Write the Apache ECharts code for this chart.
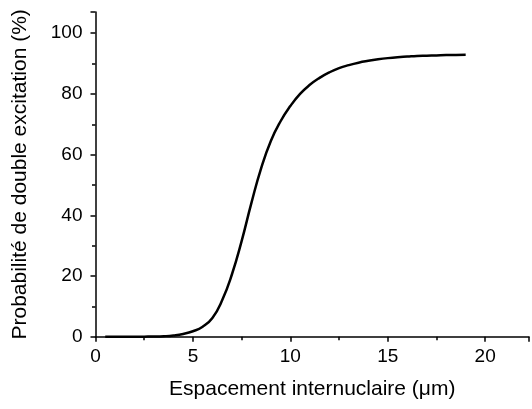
<!DOCTYPE html>
<html>
<head>
<meta charset="utf-8">
<script src="https://cdn.jsdelivr.net/npm/echarts@6/dist/echarts.min.js"></script>
<style>html,body{margin:0;padding:0;background:#fff;}#c{width:532px;height:409px;}</style>
</head>
<body>
<div id="c"></div>
<script>
var spacing = [0.5,1,1.5,2,2.5,3,3.5,4,4.5,5,5.5,6,6.5,7,7.5,8,8.5,9,9.5,10,10.5,11,11.5,12,12.5,13,13.5,14,14.5,15,15.5,16,16.5,17,17.5,18,18.5,19];
var probability = [0,0,0,0,0.02,0.05,0.15,0.4,0.9,1.8,3.3,6.2,12,20.5,31.5,44,55.5,64.5,71,76,80,83,85.3,87.1,88.5,89.5,90.3,90.9,91.4,91.8,92.1,92.3,92.5,92.6,92.7,92.8,92.85,92.9];
var xTitle = 'Espacement internuclaire (\u03bcm)';
var yTitle = 'Probabilit\u00e9 de double excitation (%)';

var points = spacing.map(function(x,i){return [x, probability[i]];});
var font = 'Liberation Sans, Arial, sans-serif';
var chart = echarts.init(document.getElementById('c'));
chart.setOption({
  animation:false,
  backgroundColor:'#fff',
  grid:{left:95.5,right:0,top:12,bottom:72.3,containLabel:false},
  xAxis:{
    type:'value',min:0,max:22.25,interval:5,
    name:xTitle,nameLocation:'middle',nameGap:42,
    nameTextStyle:{fontFamily:font,fontSize:21,color:'#000'},
    axisLine:{show:true,onZero:false,lineStyle:{color:'#000',width:1.5}},
    axisTick:{show:true,inside:false,length:5,lineStyle:{color:'#000',width:1.5}},
    minorTick:{show:true,splitNumber:2,length:3.5,lineStyle:{color:'#000',width:1.5}},
    axisLabel:{fontFamily:font,fontSize:19,color:'#000',margin:11,
      formatter:function(v){return (v%5===0)?String(v):'';}},
    splitLine:{show:false}
  },
  yAxis:{
    type:'value',min:0,max:107,interval:20,
    name:yTitle,nameLocation:'middle',nameGap:65,nameRotate:90,
    nameTextStyle:{fontFamily:font,fontSize:21,color:'#000'},
    axisLine:{show:true,onZero:false,lineStyle:{color:'#000',width:1.5}},
    axisTick:{show:true,inside:false,length:5,lineStyle:{color:'#000',width:1.5}},
    minorTick:{show:true,splitNumber:2,length:3.5,lineStyle:{color:'#000',width:1.5}},
    axisLabel:{fontFamily:font,fontSize:19,color:'#000',margin:13,
      formatter:function(v){return (v%20===0)?String(v):'';}},
    splitLine:{show:false}
  },
  series:[{
    type:'line',data:points,smooth:true,showSymbol:false,
    lineStyle:{color:'#000',width:2.5}
  }]
});
</script>
</body>
</html>
